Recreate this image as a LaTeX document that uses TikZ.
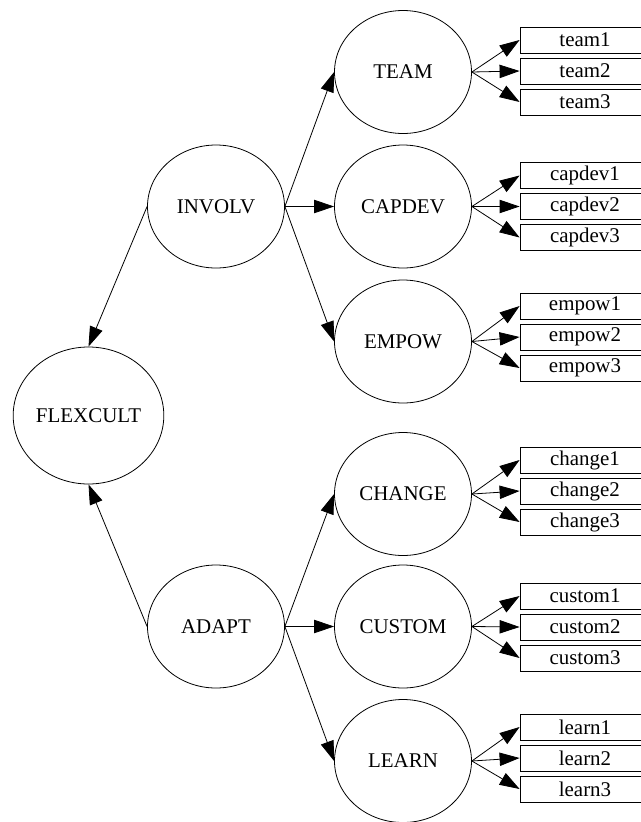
\documentclass[tikz,border=0pt]{standalone}
\usepackage{fontspec}
\setmainfont{Liberation Serif}
\usepackage{tikz}
\usetikzlibrary{arrows.meta,shapes.geometric}

\begin{document}
\begin{tikzpicture}[x=0.75pt, y=-0.75pt,
  lat/.style={draw, ellipse, inner sep=0pt, minimum width=102.75pt, minimum height=92.25pt, line width=0.6pt, font=\fontsize{15.7}{18}\selectfont},
  ind/.style={draw, rectangle, inner sep=0pt, minimum width=97.5pt, minimum height=19.5pt, line width=0.6pt, font=\fontsize{15.7}{18}\selectfont},
  arr/.style={-{Triangle[length=15pt, width=10pt]}, line width=0.6pt},
]
\useasboundingbox (0,0) rectangle (641,822);
% latent factors
\node[lat, minimum width=113pt, minimum height=102.75pt] (flexcult) at (88.5,415.5) {FLEXCULT};
\node[lat] (involv) at (216,206.5) {INVOLV};
\node[lat] (adapt) at (216,626.5) {ADAPT};
\node[lat] (team) at (403,72) {TEAM};
\node[lat] (capdev) at (403,206.5) {CAPDEV};
\node[lat] (empow) at (403,341.5) {EMPOW};
\node[lat] (change) at (403,494) {CHANGE};
\node[lat] (custom) at (403,626.5) {CUSTOM};
\node[lat] (learn) at (403,761) {LEARN};
% higher order paths
\draw[arr] (involv.west) -- (flexcult.north);
\draw[arr] (adapt.west) -- (flexcult.south);
\draw[arr] (involv.east) -- (team.west);
\draw[arr] (involv.east) -- (capdev.west);
\draw[arr] (involv.east) -- (empow.west);
\draw[arr] (adapt.east) -- (change.west);
\draw[arr] (adapt.east) -- (custom.west);
\draw[arr] (adapt.east) -- (learn.west);
% indicators
\foreach \f/\ytop in {team/40, capdev/175.5, empow/306, change/460, custom/596, learn/727}
  \foreach \i in {1,2,3} {
    \node[ind] (\f\i) at (585,{\ytop+31*(\i-1)}) {\f\i};
    \draw[arr] (\f.east) -- (\f\i.west);
  }
\end{tikzpicture}
\end{document}
